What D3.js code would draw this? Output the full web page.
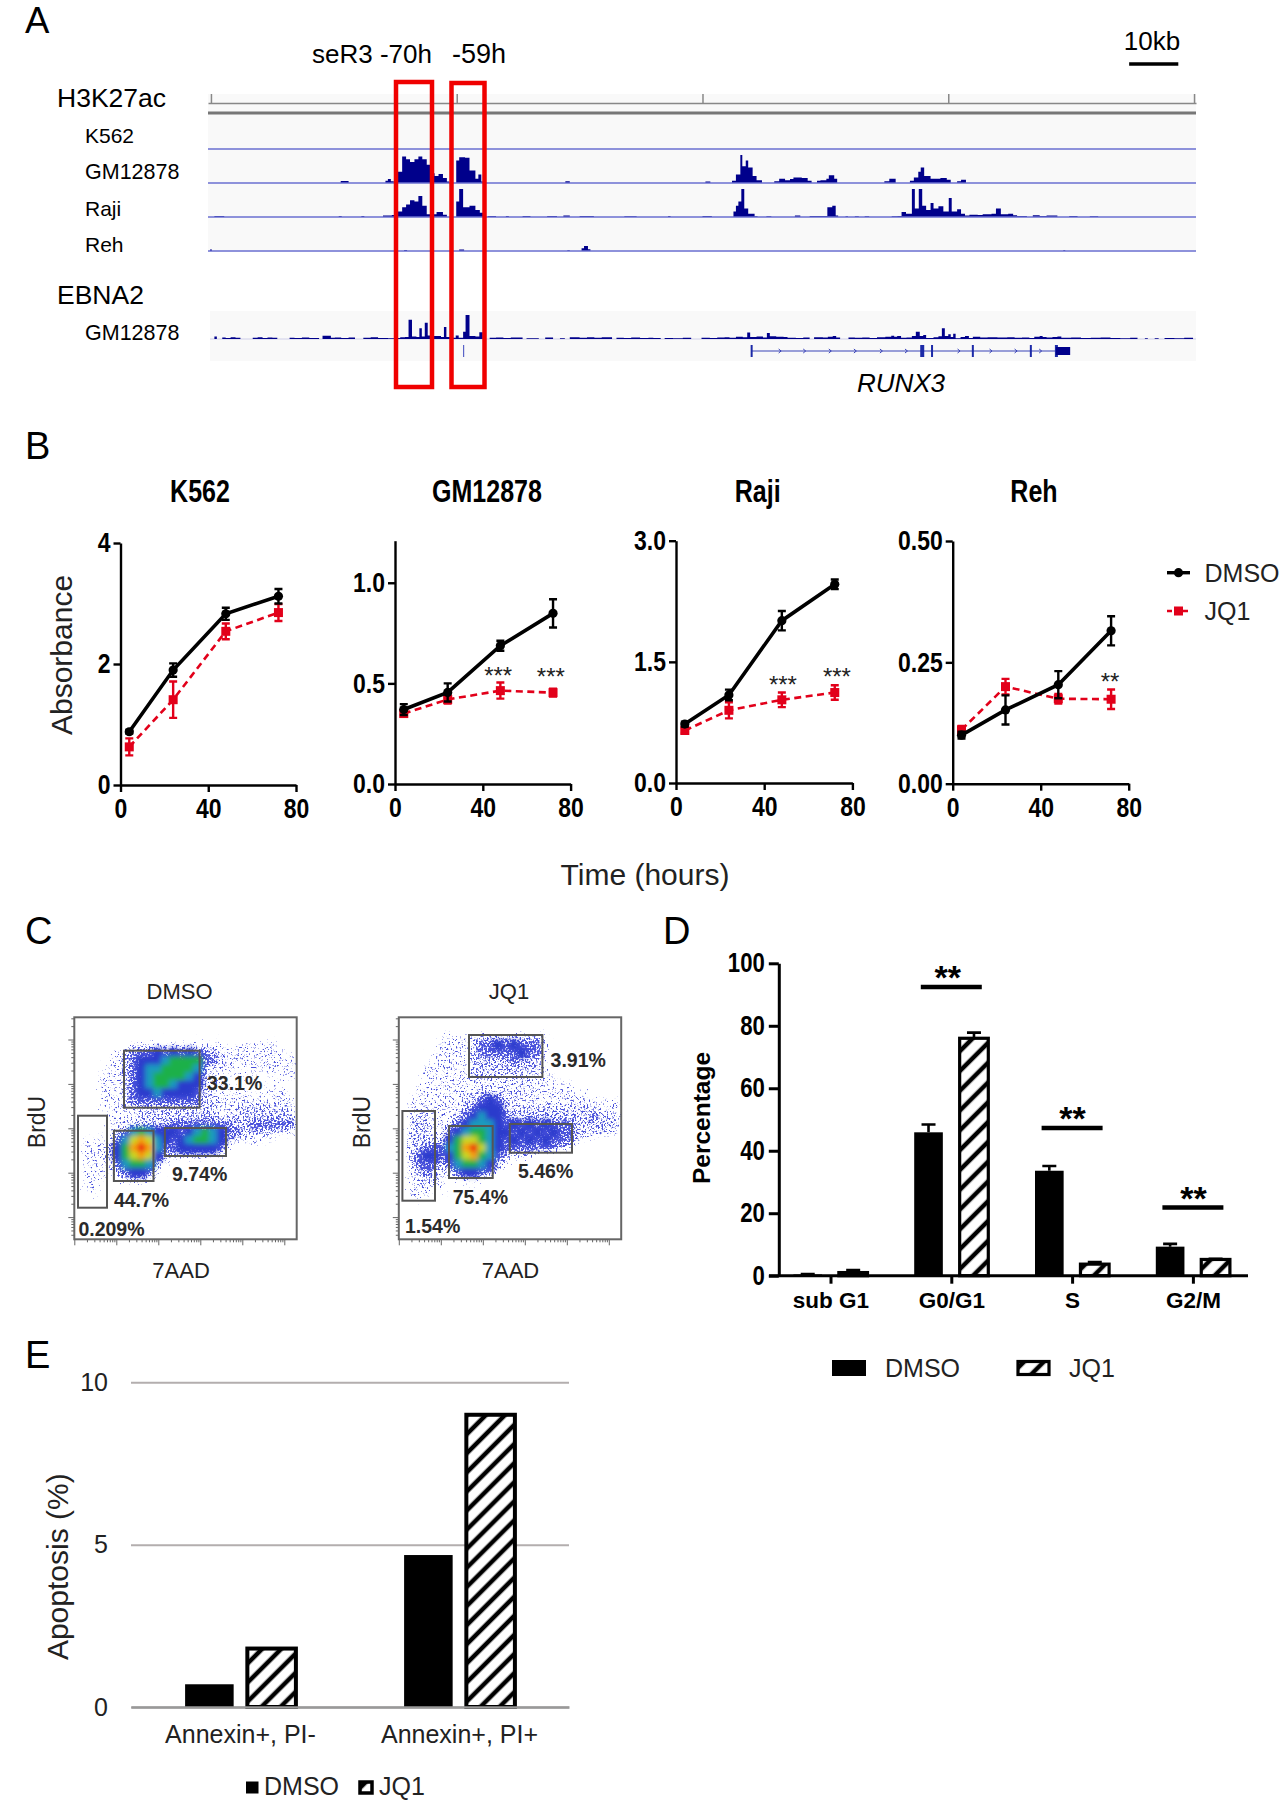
<!DOCTYPE html>
<html>
<head>
<meta charset="utf-8">
<script src="https://cdn.jsdelivr.net/npm/d3@7"></script>
<style>
  html, body { margin: 0; padding: 0; background: #fff; }
  svg { display: block; font-family: "Liberation Sans", Arial, sans-serif; }
  .narrow { font-weight: bold; }
</style>
</head>
<body>
<div id="chart"></div>
<script>
/* ------ panel A: signal per track, [kb, % of track height], a step ends on 0 ------ */
const rulerKb = [0, 50, 100, 150, 200]
const gm12878Signal = [[26.4,7],[28,0],[35.5,8],[36,14],[36.6,6],[37.2,0],[38,40],[38.9,95],[39.7,85],[40.5,75],[41.4,85],[42.2,95],[43,85],[43.9,65],[44.7,35],[45.5,25],[46.3,32],[47.2,18],[48,5],[48.5,0],
  [49.9,80],[50.5,92],[51.7,90],[52.6,45],[53.8,15],[54.4,30],[55,5],[55.5,0],[72.1,6],[73,0],[100.6,5],[101.6,0],
  [106,8],[106.8,30],[107.7,100],[108.1,60],[108.8,80],[109.3,55],[110.2,25],[111,10],[112.1,0],
  [114.6,6],[115.6,15],[116.8,10],[117.8,14],[118.5,20],[120.2,18],[121.4,8],[122.2,0],[123.3,8],[124,10],[125.2,15],[125.7,28],[126.8,15],[127.4,0],
  [137,6],[138,15],[139.3,0],[142.2,8],[143,20],[143.9,40],[144.4,55],[145.1,25],[146.4,15],[148.4,18],[149.7,12],[150.5,0],[151.8,6],[152.6,12],[153.6,0]]
const rajiSignal = [[0.7,4],[2.7,0],[26,4],[26.6,0],[30.6,4],[31.2,0],[35,5],[36.8,7],[37.4,0],[38,20],[38.9,35],[39.7,45],[40.5,60],[41.4,55],[42.2,75],[43,40],[43.9,10],[44.7,2],[45.2,10],[45.9,18],[47.2,8],[48,0],
  [49.9,55],[50.5,100],[51.3,35],[52.6,40],[53.8,25],[54.7,15],[55.5,5],[55.9,0],[56.3,4],[58,0],[60,4],[60.6,0],[63.4,4],[65,0],[68.4,4],[70.4,0],[71.7,5],[73,0],[75,4],[77.9,0],[84.1,3],[86.6,0],
  [93,4],[93.5,0],[100,4],[101.9,0],[106.3,20],[106.8,40],[107.3,55],[107.9,100],[108.5,30],[109.3,12],[110.6,3],[111.2,0],[113,3],[114,0],[118.8,5],[119.9,0],[121.8,4],[124.7,4],[125.4,35],[126.4,40],[127.1,5],[127.6,0],
  [129.1,3],[129.6,0],[131,3],[131.8,0],[133,3],[133.9,0],[138.5,3],[139.7,4],[140.5,18],[141.4,12],[142.6,100],[143.2,30],[144,100],[144.7,40],[145.5,25],[146.4,50],[147,30],[148,38],[149,20],[150.1,68],[150.7,20],[151.8,28],[152.6,12],[153.4,5],
  [154.3,8],[156,7],[157,10],[158.8,12],[159.7,30],[160.7,10],[162.2,12],[163.2,6],[164,4],[166,0],[167.2,6],[168.6,4],[170,5],[172.2,0],[174.6,4],[176.3,0],[178.8,3],[180.5,0]]
const rehSignal = [[-0.2,5],[0.2,0],[39.3,4],[39.9,0],[50.5,5],[51.5,0],[72.5,3],[73,0],[75.4,10],[75.9,18],[76.7,6],[77.2,0],[173.4,3],[173.8,0]]
const ebnaSignal = [[0.7,10],[1.2,0],[2.3,6],[3,4],[4,7],[5,5],[6,0],[8.5,5],[9.5,7],[10.5,4],[11.5,6],[12.5,5],[13.5,0],[16,5],[17,4],[18.5,6],[20,4],[22,0],[22.7,14],[24.4,5],[25.2,6],[26.5,4],[28,6],[29.3,0],[31,5],[32.5,7],[34,4],[36,3],[37.8,4],[38.5,7],[39.5,8],
  [40.2,80],[40.9,10],[41.8,8],[42.4,45],[42.9,10],[43.5,68],[44.1,15],[45,12],[46.8,8],[47.4,50],[47.9,8],[49,5],[49.8,15],[50.4,5],[51.3,30],[51.8,100],[52.6,12],[53.8,10],[54.6,28],[55.3,0],
  [56.7,5],[58,6],[59.5,4],[61,6],[63.4,0],[64.2,3],[66.7,0],[68,6],[69.6,0],[71,3],[72,0],[73,7],[75,5],[76.5,7],[78,5],[79.5,7],[81.6,0],[82.5,5],[84,4],[85.5,6],[87.3,4],[89,5],[90,4],[91.5,0],[92.3,4],[94,3],[96,5],[97.7,0],
  [99.8,5],[101.5,4],[103,6],[104.5,7],[105.5,5],[106.8,9],[108.2,7],[109.1,27],[109.7,8],[111,10],[112.3,6],[113.1,25],[113.7,11],[115,9],[116.5,8],[117.3,5],[119,4],[120.5,6],[121.8,0],[122.7,7],[124.5,6],[125.5,9],[126.5,12],[127.2,6],[128,0],
  [129.7,6],[131,5],[132.5,6],[134,4],[135.5,7],[137.2,9],[138.4,14],[139,9],[139.6,13],[140.4,5],[141.5,6],[142.6,12],[143.4,30],[144.2,12],[144.9,17],[145.5,4],[147,7],[148,11],[148.7,45],[149.3,12],[150,20],[150.5,8],[151,22],[151.5,3],
  [152.5,8],[153.4,12],[154.2,4],[155,9],[156.5,6],[158,7],[160,6],[162,7],[163.5,5],[165,6],[166.5,4],[167.5,9],[168.6,13],[169.2,8],[170,6],[171.2,8],[172.2,10],[173,5],[175,6],[177,4],[179,5],[181,6],[183,4],[185,3],[187,5],[188.5,0],[190,3],[190.6,0],[192,3],[192.8,0],[194,4],[196,3],[198,5],[199.8,0]]
const trackBaselines = ['K562', 'GM12878', 'Raji', 'Reh']
const exonKb = [110, 144.5, 146.7, 155, 166.8, 171.9]
const exonWeight = [2, 4, 2, 2, 2, 3]
const intronArrowKb = [115.8, 120.8, 126, 131.1, 136.4, 141.5, 152.2, 158.7, 163.8, 168.8]
const geneExtentKb = [110, 171.9]
const utrKb = [171.9, 174.8]
const enhancerMarkKb = 51.4
const scaleBarKb = [186.8, 196.8]

/* ------ panel B: absorbance ------ */
const timePoints = [4, 24, 48, 72]
const k562Dmso = [0.88, 1.90, 2.83, 3.12]
const k562DmsoErr = [0.03, 0.11, 0.1, 0.12]
const k562Jq1 = [0.63, 1.41, 2.54, 2.85]
const k562Jq1Err = [0.14, 0.3, 0.13, 0.14]
const gmDmso = [0.37, 0.455, 0.687, 0.848]
const gmDmsoErr = [0.027, 0.045, 0.025, 0.07]
const gmJq1 = [0.35, 0.42, 0.464, 0.454]
const gmJq1Err = [0.015, 0.02, 0.04, 0.02]
const rajiDmso = [0.73, 1.09, 2.01, 2.46]
const rajiDmsoErr = [0.03, 0.066, 0.12, 0.06]
const rajiJq1 = [0.65, 0.9, 1.03, 1.12]
const rajiJq1Err = [0.03, 0.1, 0.09, 0.09]
const rehDmso = [0.1, 0.152, 0.204, 0.315]
const rehDmsoErr = [0.007, 0.03, 0.028, 0.03]
const rehJq1 = [0.111, 0.2, 0.175, 0.174]
const rehJq1Err = [0.008, 0.016, 0.01, 0.02]

/* ------ panel C: density, rows top to bottom, digit = level 0-9 ------ */
const dmsoDensity = [
  '', '', '',
  '0000000111111111111011111100',
  '0000012333434343321111111111',
  '0000112344456666332111111111',
  '0000112345566665211111111111',
  '0001112345666654211010101011',
  '0001112345665444211010100100',
  '0001112344544443211111011110',
  '0001112333333333221111111111',
  '0001111122222222221122222221',
  '0000111122222222221122222222',
  '0000111222223333333322333333',
  '0000123565444345654332222211',
  '0111135787543456654211111000',
  '0111246898533444443100000000',
  '0111246787422222211000000000',
  '0111135665210000000000000000',
  '0111123443100000000000000000',
  '0111012221000000000000000000',
  '011', '001'
]
const jq1Density = [
  '', '',
  '0000011112222222221000000000',
  '0000011112334343331000000000',
  '0000111112333334331000000000',
  '0000111112222232221000000000',
  '0001111112222222221000000000',
  '0001111112222222221100000000',
  '0011111111111111111111000000',
  '0011111112222222211111110000',
  '0111111122343211111111111111',
  '0111111123444222222222221111',
  '0222111234544322222222223222',
  '0222112345554343434333222221',
  '0222113456654434343433222221',
  '0222224677654343434333210000',
  '0223335689754333333321000000',
  '0234434678653211100000000000',
  '02333235665421',
  '01232123443310',
  '01122101111',
  '011111',
  '0111'
]
const dmsoGates = [[124, 199.6, 1050.7, 1107.7], [113.9, 153.5, 1130.7, 1181], [164.9, 226, 1128, 1156], [78, 107, 1115.7, 1207.7]]
const jq1Gates = [[469, 542.4, 1035, 1077], [449, 492.7, 1126, 1178], [509.8, 572, 1124, 1152.7], [402.4, 435, 1111, 1200.7]]
const dmsoGateLabels = ['33.1%', '44.7%', '9.74%', '0.209%']
const jq1GateLabels = ['3.91%', '75.4%', '5.46%', '1.54%']

/* ------ panel D: cell cycle ------ */
const phases = ['sub G1', 'G0/G1', 'S', 'G2/M']
const phaseDmso = [0.4, 45.9, 33.6, 9.3]
const phaseDmsoErr = [0.1, 2.5, 1.5, 0.9]
const phaseJq1 = [1, 76, 3.7, 5.2]
const phaseJq1Err = [0.8, 1.8, 0.7, 0.2]
const phaseSig = ['G0/G1', 'S', 'G2/M']
const phaseSigValue = [92.4, 47.3, 21.8]

/* ------ panel E: apoptosis ------ */
const apoCategories = ['Annexin+, PI-', 'Annexin+, PI+']
const apoDmso = [0.7, 4.68]
const apoJq1 = [1.8, 9.0]
const apoTicks = [0, 5, 10]

const red = '#e2001a'
const navy = '#00008b'
const W = 1281, H = 1800

var svg = d3.select('#chart').append('svg').attr('width', W).attr('height', H)
var defs = svg.append('defs')

function addHatch(id, spacing, weight) {
  defs.append('pattern')
    .attr('id', id)
    .attr('patternUnits', 'userSpaceOnUse')
    .attr('width', spacing).attr('height', spacing)
    .attr('patternTransform', 'rotate(45)')
    .call(p => p.append('rect').attr('width', spacing).attr('height', spacing).attr('fill', '#fff'))
    .call(p => p.append('line').attr('x1', spacing / 2).attr('x2', spacing / 2).attr('y1', 0).attr('y2', spacing)
      .attr('stroke', '#000').attr('stroke-width', weight))
}
addHatch('hatchD', 14, 4.5)
addHatch('hatchE', 13.5, 4.5)
defs.append('filter').attr('id', 'soft').attr('x', '-5%').attr('y', '-5%').attr('width', '110%').attr('height', '110%')
  .append('feGaussianBlur').attr('stdDeviation', 2.6)

// grain for the sparse part of the flow plots: only a texture, how dense it gets comes from the level digits
var grain = defs.append('filter').attr('id', 'grain').attr('x', '-5%').attr('y', '-5%').attr('width', '110%').attr('height', '110%')
  .attr('color-interpolation-filters', 'sRGB')
grain.append('feGaussianBlur').attr('in', 'SourceAlpha').attr('stdDeviation', 3).attr('result', 'dens')
grain.append('feTurbulence').attr('type', 'fractalNoise').attr('baseFrequency', 0.55).attr('numOctaves', 2).attr('seed', 4).attr('result', 'noise')
grain.append('feColorMatrix').attr('in', 'noise').attr('type', 'matrix')
  .attr('values', '0 0 0 0 0  0 0 0 0 0  0 0 0 0 0  1.6 0 0 0 -0.3').attr('result', 'noiseA')
grain.append('feComposite').attr('in', 'dens').attr('in2', 'noiseA').attr('operator', 'arithmetic')
  .attr('k1', 0).attr('k2', 5).attr('k3', 5).attr('k4', -5).attr('result', 'dots')
grain.append('feFlood').attr('flood-color', '#4a52dc').attr('result', 'ink')
grain.append('feComposite').attr('in', 'ink').attr('in2', 'dots').attr('operator', 'in').attr('result', 'inked')
grain.append('feGaussianBlur').attr('in', 'inked').attr('stdDeviation', 0.5)

function label(x, y, str, size, opts) {
  opts = opts || {}
  var t = svg.append('text')
    .attr('x', x).attr('y', y)
    .attr('font-size', size)
    .attr('text-anchor', opts.anchor || 'start')
    .attr('fill', opts.fill || '#000')
    .text(str)
  if (opts.narrow) t.attr('class', 'narrow')
  if (opts.bold) t.attr('font-weight', 'bold')
  if (opts.italic) t.attr('font-style', 'italic')
  if (opts.rotate) t.attr('transform', `rotate(-90 ${x} ${y})`)
  return t
}

// panel letters
label(25, 33, 'A', 36.5)
label(25, 459, 'B', 38)
label(25, 944, 'C', 38)
label(663, 944, 'D', 38)
label(25, 1368, 'E', 38)

function panelA() {
  var x = d3.scaleLinear().domain([-0.6, 200.4]).range([208, 1196])
  var trackY = d3.scalePoint().domain(trackBaselines).range([149, 251])
  var signalY = d3.scaleLinear().domain([0, 100]).range([0, -28])
  var ebnaY = d3.scaleLinear().domain([0, 100]).range([0, -24])

  svg.append('rect').attr('x', 208).attr('y', 94).attr('width', 988).attr('height', 158).attr('fill', '#f9f9f9')
  svg.append('rect').attr('x', 210).attr('y', 311).attr('width', 986).attr('height', 50).attr('fill', '#f9f9f9')

  svg.append('g')
    .attr('transform', 'translate(0,103)')
    .call(d3.axisTop(x).tickValues(rulerKb).tickSize(9).tickSizeOuter(0).tickFormat(''))
    .call(g => g.selectAll('path,line').attr('stroke', '#888').attr('stroke-width', 1.5))
  svg.append('line').attr('x1', 208).attr('x2', 1196).attr('y1', 113).attr('y2', 113).attr('stroke', '#777').attr('stroke-width', 3)

  var tracks = [[], gm12878Signal, rajiSignal, rehSignal]
  var area = d3.area().x(d => x(d[0])).y0(0).y1(d => signalY(d[1])).curve(d3.curveStepAfter)
  trackBaselines.forEach((name, i) => {
    var g = svg.append('g').attr('transform', `translate(0,${trackY(name)})`)
    g.append('path').datum(tracks[i]).attr('d', area).attr('fill', navy)
    g.append('line').attr('x1', 208).attr('x2', 1196).attr('stroke', '#6a6fd0').attr('stroke-width', 1.5)
  })

  var ebna = svg.append('g').attr('transform', 'translate(0,339)')
  ebna.append('line').attr('x1', 210).attr('x2', 1196).attr('stroke', '#dcdcee').attr('stroke-width', 1.5)
  ebna.append('path').datum(ebnaSignal)
    .attr('d', d3.area().x(d => x(d[0])).y0(0).y1(d => ebnaY(d[1])).curve(d3.curveStepAfter))
    .attr('fill', navy)

  // gene model
  var gene = svg.append('g').attr('transform', 'translate(0,351)')
  gene.append('line').attr('x1', x(geneExtentKb[0])).attr('x2', x(geneExtentKb[1]))
    .attr('stroke', '#3a44b8').attr('stroke-width', 1.2)
  gene.selectAll('.exon').data(exonKb).enter().append('rect')
    .attr('x', d => x(d) - 1).attr('y', -6)
    .attr('width', (d, i) => exonWeight[i]).attr('height', 12)
    .attr('fill', '#1c2aa8')
  gene.append('rect').attr('x', x(utrKb[0])).attr('y', -4)
    .attr('width', x(utrKb[1]) - x(utrKb[0])).attr('height', 8).attr('fill', navy)
  gene.selectAll('.arrow').data(intronArrowKb).enter().append('path')
    .attr('d', 'M-1.5,-2L1,0L-1.5,2')
    .attr('transform', d => `translate(${x(d)},0)`)
    .attr('fill', 'none').attr('stroke', '#3a44b8')
  svg.append('line').attr('x1', x(enhancerMarkKb)).attr('x2', x(enhancerMarkKb))
    .attr('y1', 345).attr('y2', 357).attr('stroke', '#5a64c8').attr('stroke-width', 1.2)

  // scale bar
  svg.append('line').attr('x1', x(scaleBarKb[0])).attr('x2', x(scaleBarKb[1]))
    .attr('y1', 64).attr('y2', 64).attr('stroke', '#000').attr('stroke-width', 3.5)
  label(1152, 50, '10kb', 26, { anchor: 'middle' })

  // red enhancer boxes
  svg.append('rect').attr('x', 396).attr('y', 82).attr('width', 36).attr('height', 305)
    .attr('fill', 'none').attr('stroke', '#f00000').attr('stroke-width', 4.5)
  svg.append('rect').attr('x', 451.5).attr('y', 83).attr('width', 33).attr('height', 304)
    .attr('fill', 'none').attr('stroke', '#f00000').attr('stroke-width', 4.5)

  label(312, 63, 'seR3 -70h', 26)
  label(452, 63, '-59h', 27)
  label(57, 107, 'H3K27ac', 26.5)
  label(57, 304, 'EBNA2', 26.5)
  label(85, 143, 'K562', 21)
  label(85, 179, 'GM12878', 21.5)
  label(85, 216, 'Raji', 21)
  label(85, 252, 'Reh', 21)
  label(85, 340, 'GM12878', 21.5)
  label(901, 392, 'RUNX3', 26, { anchor: 'middle', italic: true })
}
panelA()

function growthPanel(cfg) {
  var x = d3.scaleLinear().domain([0, 80]).range([cfg.left, cfg.right])
  var y = d3.scaleLinear().domain([0, cfg.yMax]).range([cfg.bottom, cfg.top])
  var g = svg.append('g')

  function drawSeries(values, errors, color, dashed, marker) {
    var line = d3.line().x((d, i) => x(timePoints[i])).y(d => y(d))
    g.append('path').datum(values).attr('d', line).attr('fill', 'none')
      .attr('stroke', color).attr('stroke-width', dashed ? 2.6 : 3.6)
      .attr('stroke-dasharray', dashed ? '7 4.5' : null)
    values.forEach((v, i) => {
      var cx = x(timePoints[i])
      var lo = y(v - errors[i]), hi = y(v + errors[i])
      g.append('path').attr('d', `M${cx - 4},${hi}H${cx + 4}M${cx},${hi}V${lo}M${cx - 4},${lo}H${cx + 4}`)
        .attr('fill', 'none').attr('stroke', color).attr('stroke-width', 2.4)
      if (marker === 'square') {
        g.append('rect').attr('x', cx - 4.5).attr('y', y(v) - 4.5).attr('width', 9).attr('height', 9).attr('fill', color)
      } else {
        g.append('circle').attr('cx', cx).attr('cy', y(v)).attr('r', 4.6).attr('fill', color)
      }
    })
  }
  drawSeries(cfg.jq1, cfg.jq1Err, red, true, 'square')
  drawSeries(cfg.dmso, cfg.dmsoErr, '#000', false, 'circle')

  var axisStyle = a => a.call(s => s.selectAll('path,line').attr('stroke', '#000').attr('stroke-width', 2.4))
    .call(s => s.selectAll('text').attr('class', 'narrow').attr('font-size', 28).attr('fill', '#000'))
  g.append('g').attr('transform', `translate(${cfg.left},0)`)
    .call(d3.axisLeft(y).tickValues(cfg.ticks).tickFormat(d3.format(cfg.fmt)).tickSize(7).tickSizeOuter(0).tickPadding(3))
    .call(axisStyle)
  g.append('g').attr('transform', `translate(0,${cfg.bottom})`)
    .call(d3.axisBottom(x).tickValues([0, 40, 80]).tickSize(7).tickSizeOuter(0).tickPadding(6))
    .call(axisStyle)

  label(cfg.titleX, 502, cfg.title, 30.5, { anchor: 'middle', narrow: true })
  cfg.stars.forEach(s => {
    svg.append('text').attr('x', x(s[0])).attr('y', s[2] + 12)
      .attr('text-anchor', 'middle').attr('font-size', 24).attr('fill', '#222').text(s[1])
  })
}

growthPanel({ title: 'K562', titleX: 200, left: 120.5, right: 296, top: 543, bottom: 785, yMax: 4, ticks: [0, 2, 4], fmt: 'd',
  dmso: k562Dmso, dmsoErr: k562DmsoErr, jq1: k562Jq1, jq1Err: k562Jq1Err, stars: [] })
growthPanel({ title: 'GM12878', titleX: 487, left: 395, right: 570.6, top: 540.7, bottom: 784, yMax: 1.209, ticks: [0, 0.5, 1], fmt: '.1f',
  dmso: gmDmso, dmsoErr: gmDmsoErr, jq1: gmJq1, jq1Err: gmJq1Err, stars: [[47, '***', 672], [71, '***', 673]] })
growthPanel({ title: 'Raji', titleX: 757.7, left: 676, right: 852.4, top: 540.7, bottom: 783, yMax: 3, ticks: [0, 1.5, 3], fmt: '.1f',
  dmso: rajiDmso, dmsoErr: rajiDmsoErr, jq1: rajiJq1, jq1Err: rajiJq1Err, stars: [[48.5, '***', 681], [73, '***', 673]] })
growthPanel({ title: 'Reh', titleX: 1034, left: 952.7, right: 1128.7, top: 541, bottom: 783.7, yMax: 0.5, ticks: [0, 0.25, 0.5], fmt: '.2f',
  dmso: rehDmso, dmsoErr: rehDmsoErr, jq1: rehJq1, jq1Err: rehJq1Err, stars: [[71.5, '**', 678]] })

label(72, 655, 'Absorbance', 30, { anchor: 'middle', rotate: true, fill: '#222' })
label(645, 885, 'Time (hours)', 30, { anchor: 'middle', fill: '#222' })

// line legend
svg.append('line').attr('x1', 1167).attr('x2', 1190).attr('y1', 572.7).attr('y2', 572.7).attr('stroke', '#000').attr('stroke-width', 3.4)
svg.append('circle').attr('cx', 1178.5).attr('cy', 572.7).attr('r', 4.6).attr('fill', '#000')
svg.append('line').attr('x1', 1167).attr('x2', 1190).attr('y1', 611).attr('y2', 611).attr('stroke', red).attr('stroke-width', 2.4).attr('stroke-dasharray', '5 3')
svg.append('rect').attr('x', 1174).attr('y', 606.5).attr('width', 9).attr('height', 9).attr('fill', red)
label(1204.5, 581.5, 'DMSO', 25, { fill: '#222' })
label(1204.5, 620, 'JQ1', 25, { fill: '#222' })

const densityColors = ['#ffffff', '#e2e3fb', '#b3b7f2', '#5a63e0', '#2a3acc', '#1a9abf', '#1fb04a', '#c8d820', '#f7a010', '#ee2010']
const grainOpacity = [0, 0.3, 0.42, 0.7, 1, 1, 1, 1, 1, 1]

function flowPanel(cfg) {
  var cols = d3.range(28)
  var rows = d3.range(28)
  var cx = d3.scaleBand().domain(cols).range([cfg.left, cfg.left + 222.4])
  var cy = d3.scaleBand().domain(rows).range([1017.3, 1239.3])
  var lx = d3.scaleLog().domain([1, Math.pow(10, 5.295)]).range([cfg.left, cfg.left + 222.4])
  var ly = d3.scaleLog().domain([Math.pow(10, -0.5), Math.pow(10, 4.5)]).range([1239.3, 1017.3])

  var clipId = 'clip' + cfg.title
  defs.append('clipPath').attr('id', clipId).append('rect')
    .attr('x', cfg.left).attr('y', 1017.3).attr('width', 222.4).attr('height', 222)

  var cells = []
  cfg.density.forEach((row, r) => {
    row.split('').forEach((ch, c) => {
      if (+ch > 0) cells.push({ r: r, c: c, v: +ch })
    })
  })
  var plot = svg.append('g').attr('clip-path', `url(#${clipId})`)
  plot.append('g').attr('filter', 'url(#grain)')
    .selectAll('rect').data(cells).enter().append('rect')
    .attr('x', d => cx(d.c) - 0.5).attr('y', d => cy(d.r) - 0.5)
    .attr('width', cx.bandwidth() + 1).attr('height', cy.bandwidth() + 1)
    .attr('fill', '#000').attr('fill-opacity', d => grainOpacity[d.v])
  plot.append('g').attr('filter', 'url(#soft)')
    .selectAll('rect').data(cells.filter(d => d.v >= 4)).enter().append('rect')
    .attr('x', d => cx(d.c) - 0.5).attr('y', d => cy(d.r) - 0.5)
    .attr('width', cx.bandwidth() + 1).attr('height', cy.bandwidth() + 1)
    .attr('fill', d => densityColors[d.v])

  svg.append('rect').attr('x', cfg.left).attr('y', 1017.3).attr('width', 222.4).attr('height', 222)
    .attr('fill', 'none').attr('stroke', '#666').attr('stroke-width', 2)

  var majorX = [1, 10, 100, 1000, 10000, 100000]
  var majorY = [1, 10, 100, 1000, 10000]
  var minors = major => major.flatMap(m => d3.range(2, 10).map(k => k * m))
  var minorX = minors(majorX).filter(v => lx(v) <= cfg.left + 222.4)
  var minorY = minors([0.1].concat(majorY)).filter(v => v >= Math.pow(10, -0.5) && v <= Math.pow(10, 4.5))
  var tickStyle = s => s.call(g => g.select('.domain').remove())
    .call(g => g.selectAll('line').attr('stroke', '#666').attr('stroke-width', 1))
  svg.append('g').attr('transform', 'translate(0,1239.3)')
    .call(d3.axisBottom(lx).tickValues(majorX).tickSize(6).tickFormat('')).call(tickStyle)
  svg.append('g').attr('transform', 'translate(0,1239.3)')
    .call(d3.axisBottom(lx).tickValues(minorX).tickSize(3).tickFormat('')).call(tickStyle)
  svg.append('g').attr('transform', `translate(${cfg.left},0)`)
    .call(d3.axisLeft(ly).tickValues(majorY).tickSize(6).tickFormat('')).call(tickStyle)
  svg.append('g').attr('transform', `translate(${cfg.left},0)`)
    .call(d3.axisLeft(ly).tickValues(minorY).tickSize(3).tickFormat('')).call(tickStyle)

  cfg.gates.forEach((b, i) => {
    svg.append('rect').attr('x', b[0]).attr('y', b[2]).attr('width', b[1] - b[0]).attr('height', b[3] - b[2])
      .attr('fill', 'none').attr('stroke', '#555').attr('stroke-width', 2)
    label(cfg.labelPos[i][0], cfg.labelPos[i][1], cfg.gateLabels[i], 19.5, { bold: true, fill: '#2a2a2a' })
  })

  label(cfg.titleX, 998.5, cfg.title, 22, { anchor: 'middle', fill: '#222' })
  label(cfg.titleX + 1.5, 1278, '7AAD', 22, { anchor: 'middle', fill: '#222' })
  label(cfg.left - 29, 1122, 'BrdU', 23, { anchor: 'middle', rotate: true, fill: '#222' })
}

flowPanel({ title: 'DMSO', titleX: 179.6, left: 74.3, density: dmsoDensity, gates: dmsoGates, gateLabels: dmsoGateLabels,
  labelPos: [[207, 1090], [113.9, 1207], [172, 1181], [78.4, 1236]] })
flowPanel({ title: 'JQ1', titleX: 509, left: 398.8, density: jq1Density, gates: jq1Gates, gateLabels: jq1GateLabels,
  labelPos: [[550.6, 1067], [452.7, 1204], [518, 1178], [405, 1233]] })

function panelD() {
  var x = d3.scaleBand().domain(phases).range([770.6, 1253.8])
  var inner = d3.scaleBand().domain(['DMSO', 'JQ1']).range([-37.6, 36.5]).paddingInner(0.37)
  var y = d3.scaleLinear().domain([0, 100]).range([1275.7, 963.3])
  var center = p => x(p) + x.bandwidth() / 2

  phases.forEach((p, i) => {
    var g = svg.append('g').attr('transform', `translate(${center(p)},0)`)
    var bw = inner.bandwidth()
    ;[['DMSO', phaseDmso[i], phaseDmsoErr[i]], ['JQ1', phaseJq1[i], phaseJq1Err[i]]].forEach(s => {
      var bx = inner(s[0]), top = y(s[1]), ex = bx + bw / 2
      g.append('path').attr('d', `M${ex},${top}V${y(s[1] + s[2])}M${ex - 7},${y(s[1] + s[2])}H${ex + 7}`)
        .attr('stroke', '#000').attr('stroke-width', 2.6).attr('fill', 'none')
      if (s[0] === 'DMSO') {
        g.append('rect').attr('x', bx).attr('y', top).attr('width', bw).attr('height', y(0) - top).attr('fill', '#000')
      } else {
        g.append('rect').attr('x', bx).attr('y', top).attr('width', bw).attr('height', y(0) - top)
          .attr('fill', 'url(#hatchD)').attr('stroke', '#000').attr('stroke-width', 3.2)
      }
    })
  })

  svg.append('g').attr('transform', 'translate(778.8,0)')
    .call(d3.axisLeft(y).tickValues(d3.range(0, 101, 20)).tickSize(10).tickSizeOuter(0).tickPadding(4))
    .call(s => s.selectAll('path,line').attr('stroke', '#000').attr('stroke-width', 3))
    .call(s => s.selectAll('text').attr('class', 'narrow').attr('font-size', 27).attr('fill', '#000'))
  svg.append('g').attr('transform', 'translate(0,1275.7)')
    .call(d3.axisBottom(x).tickSize(8).tickSizeOuter(0).tickPadding(8))
    .call(s => s.select('.domain').remove())
    .call(s => s.selectAll('line').attr('stroke', '#000').attr('stroke-width', 3))
    .call(s => s.selectAll('text').attr('font-size', 22.5).attr('font-weight', 'bold').attr('fill', '#000'))
  svg.append('line').attr('x1', 769).attr('x2', 1248).attr('y1', 1275.7).attr('y2', 1275.7).attr('stroke', '#000').attr('stroke-width', 3)

  phaseSig.forEach((p, i) => {
    var cxp = center(p), yy = y(phaseSigValue[i])
    svg.append('line').attr('x1', cxp - 31).attr('x2', cxp + 30).attr('y1', yy).attr('y2', yy)
      .attr('stroke', '#000').attr('stroke-width', 4.5)
    label(cxp + (i === 0 ? -4 : 0), yy + 2, '**', 34, { anchor: 'middle', bold: true })
  })

  label(710, 1118, 'Percentage', 24.5, { anchor: 'middle', rotate: true, bold: true })

  svg.append('rect').attr('x', 832).attr('y', 1360).attr('width', 34).attr('height', 16).attr('fill', '#000')
  label(885, 1376.5, 'DMSO', 25, { fill: '#222' })
  svg.append('rect').attr('x', 1018).attr('y', 1361.5).attr('width', 31).attr('height', 13)
    .attr('fill', 'url(#hatchD)').attr('stroke', '#000').attr('stroke-width', 3.2)
  label(1069, 1376.5, 'JQ1', 25, { fill: '#222' })
}
panelD()

function panelE() {
  var x = d3.scaleBand().domain(apoCategories).range([131, 569])
  var inner = d3.scaleBand().domain(['DMSO', 'JQ1']).range([-55.4, 55.4]).paddingInner(0.22)
  var y = d3.scaleLinear().domain([0, 10]).range([1707, 1382.3])

  svg.append('g').attr('transform', 'translate(131,0)')
    .call(d3.axisRight(y).tickValues(apoTicks).tickSize(438).tickFormat(''))
    .call(s => s.select('.domain').remove())
    .call(s => s.selectAll('line').attr('stroke', '#b3aeae').attr('stroke-width', 2))

  apoCategories.forEach((c, i) => {
    var g = svg.append('g').attr('transform', `translate(${x(c) + x.bandwidth() / 2},0)`)
    g.append('rect').attr('x', inner('DMSO')).attr('y', y(apoDmso[i]))
      .attr('width', inner.bandwidth()).attr('height', y(0) - y(apoDmso[i])).attr('fill', '#000')
    g.append('rect').attr('x', inner('JQ1')).attr('y', y(apoJq1[i]))
      .attr('width', inner.bandwidth()).attr('height', y(0) - y(apoJq1[i]))
      .attr('fill', 'url(#hatchE)').attr('stroke', '#000').attr('stroke-width', 4)
  })

  svg.append('g').attr('transform', 'translate(131,0)')
    .call(d3.axisLeft(y).tickValues(apoTicks).tickSize(0).tickPadding(23))
    .call(s => s.select('.domain').remove())
    .call(s => s.selectAll('text').attr('font-size', 25).attr('fill', '#222'))
  svg.append('g').attr('transform', 'translate(0,1707)')
    .call(d3.axisBottom(x).tickSize(0).tickPadding(18))
    .call(s => s.select('.domain').attr('stroke', '#999').attr('stroke-width', 2.5))
    .call(s => s.selectAll('text').attr('font-size', 25).attr('fill', '#222'))

  label(68, 1566.7, 'Apoptosis (%)', 30, { anchor: 'middle', rotate: true, fill: '#222' })

  svg.append('rect').attr('x', 246).attr('y', 1781.5).attr('width', 12.5).attr('height', 12).attr('fill', '#000')
  label(264, 1794.5, 'DMSO', 25, { fill: '#222' })
  svg.append('rect').attr('x', 360).attr('y', 1782).attr('width', 12).attr('height', 11)
    .attr('fill', 'url(#hatchE)').attr('stroke', '#000').attr('stroke-width', 3.5)
  label(379, 1794.5, 'JQ1', 25, { fill: '#222' })
}
panelE()

// no condensed face is installed: squeeze the bold GraphPad-style labels to their width in the figure
svg.selectAll('text.narrow').each(function () {
  var t = d3.select(this)
  t.attr('textLength', this.getComputedTextLength() * 0.82).attr('lengthAdjust', 'spacingAndGlyphs')
})
</script>
</body>
</html>
